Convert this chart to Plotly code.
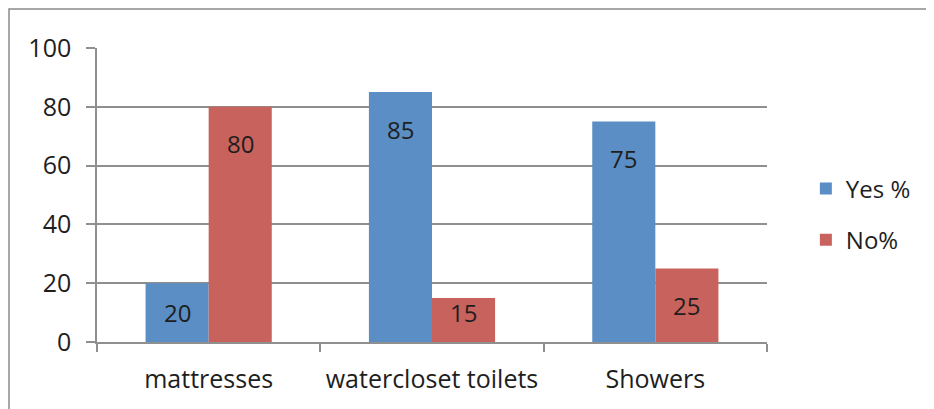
import plotly.graph_objects as go

categories = ["mattresses", "watercloset toilets", "Showers"]
yes_values = [20, 85, 75]
no_values = [80, 15, 25]
y_ticks = [0, 20, 40, 60, 80, 100]

BLUE = "#5A8EC4"
RED = "#C8625C"
GRID = "#8f8f8f"
FONT = "Open Sans, Liberation Sans, Arial, sans-serif"
TXT = "#1e1e1e"
FS = 25

fig = go.Figure()
fig.add_trace(go.Bar(name="Yes %", x=categories, y=yes_values, marker_color=BLUE,
                     marker_line_width=0, legendgroup="a"))
fig.add_trace(go.Bar(name="No%", x=categories, y=no_values, marker_color=RED,
                     marker_line_width=0, legendgroup="b"))

# value labels placed inside the bars near their tops
plot_h = 294.0
for vals, shift in ((yes_values, -31.5), (no_values, 31.5)):
    for c, v in zip(categories, vals):
        ylab = max(v - 37 / plot_h * 100, 30 / plot_h * 100)
        fig.add_annotation(x=c, y=ylab, xref="x", yref="y", text=str(v),
                           showarrow=False, xshift=shift,
                           font=dict(family=FONT, size=FS - 1, color=TXT))

# outer chart border (only top/left visible in the crop)
fig.add_shape(type="rect", xref="paper", yref="paper",
              x0=(9 - 97) / 670, x1=1.5, y0=-0.4, y1=(342 - 9) / 294,
              line=dict(color="#8a8a8a", width=1.5), layer="below")

fig.update_layout(
    width=926, height=401,
    margin=dict(l=89, r=167, t=40, b=67, autoexpand=False),
    paper_bgcolor="white", plot_bgcolor="white",
    barmode="group", bargap=0.435, bargroupgap=0,
    font=dict(family=FONT, size=FS, color=TXT),
    showlegend=True,
    legend=dict(x=1.058, y=0.597, xanchor="left", yanchor="top",
                font=dict(family=FONT, size=FS - 1, color=TXT),
                tracegroupgap=17, traceorder="grouped",
                bgcolor="rgba(0,0,0,0)"),
)
fig.update_xaxes(
    type="category", range=[-0.5, 2.5],
    showline=True, linecolor=GRID, linewidth=1.5,
    showgrid=False, tickson="boundaries",
    ticks="outside", ticklen=8, tickcolor=GRID, tickwidth=1.5,
    ticklabelstandoff=14,
    tickfont=dict(family=FONT, size=FS, color=TXT),
)
fig.update_yaxes(
    range=[0, 100], tickvals=y_ticks,
    showline=True, linecolor=GRID, linewidth=1.5,
    showgrid=True, gridcolor=GRID, gridwidth=1.5,
    ticks="outside", ticklen=9, tickcolor=GRID, tickwidth=1.5,
    ticklabelstandoff=10, zeroline=False,
    tickfont=dict(family=FONT, size=FS, color=TXT),
)

fig.write_html("out.html", config={"displayModeBar": False})
